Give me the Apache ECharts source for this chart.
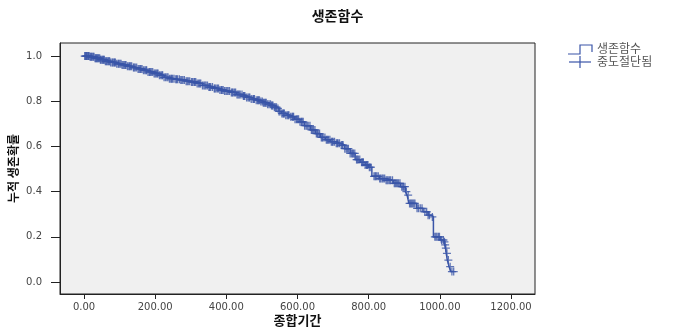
<!DOCTYPE html>
<html>
<head>
<meta charset="utf-8">
<script src="https://cdn.jsdelivr.net/npm/echarts@6/dist/echarts.min.js"></script>
<style>html,body{margin:0;padding:0;background:#fff;}#c{width:675px;height:329px;}</style>
</head>
<body>
<div id="c"></div>
<script>
// Kaplan-Meier survival steps: [time, survival after that time]
const survivalSteps = [
  [0,1.0],[15,0.997],[30,0.991],[45,0.984],[60,0.977],[75,0.972],[90,0.966],[105,0.961],
  [120,0.955],[135,0.949],[150,0.943],[165,0.937],[180,0.930],[195,0.923],[210,0.915],
  [225,0.906],[240,0.900],[255,0.897],[270,0.894],[285,0.889],[300,0.885],[317,0.879],
  [333,0.870],[348,0.863],[364,0.857],[380,0.850],[395,0.845],[410,0.839],[429,0.830],
  [445,0.823],[457,0.817],[470,0.810],[482,0.805],[495,0.799],[504,0.794],[515,0.787],
  [525,0.781],[535,0.774],[542,0.768],[548,0.755],[555,0.746],[566,0.738],[579,0.731],
  [592,0.720],[607,0.709],[620,0.692],[636,0.673],[650,0.657],[664,0.640],[678,0.630],
  [692,0.621],[706,0.614],[720,0.606],[733,0.590],[748,0.569],[762,0.542],[776,0.530],
  [790,0.518],[800,0.508],[809,0.468],[830,0.458],[846,0.450],[869,0.437],[889,0.422],
  [903,0.400],[908,0.385],[913,0.348],[935,0.326],[953,0.311],[967,0.296],[976,0.288],
  [982,0.200],[1001,0.186],[1012,0.178],[1014,0.164],[1016,0.150],[1018,0.127],
  [1021,0.097],[1026,0.068],[1031,0.046],[1039,0.046]
];
// Censored observation times (marks sit on the curve)
const censoredTimes = [
  2,4,6,7,9,11,13,14,17,19,21,23,26,28,31,33,35,37,39,41,44,46,48,51,53,55,57,60,63,65,68,
  70,72,75,79,81,84,86,88,92,96,98,101,104,107,110,113,116,118,122,126,128,131,134,
  139,141,144,148,152,155,158,160,163,167,171,174,176,180,184,186,189,193,197,200,203,
  206,208,212,216,219,221,225,229,233,236,240,244,246,249,253,258,260,263,268,
  272,275,278,282,287,290,293,297,302,305,309,311,314,318,322,325,328,333,337,340,343,
  347,351,353,356,361,366,368,371,375,378,382,386,388,391,395,399,402,405,409,
  414,417,419,423,426,430,433,436,439,444,448,450,452,457,461,464,466,470,475,477,479,
  484,488,490,493,497,501,504,507,510,512,516,520,524,527,529,531,535,538,541,
  545,548,551,556,559,561,563,567,571,574,576,581,585,587,589,593,597,600,603,607,611,
  613,616,620,624,627,630,635,639,642,645,649,653,656,658,662,667,670,672,677,
  681,684,687,691,695,698,700,704,709,712,714,718,723,726,728,733,737,740,743,748,752,
  755,757,761,766,768,771,775,780,783,785,790,794,796,798,802,806,
  815,818,820,823,827,831,834,838,841,845,849,852,855,859,862,867,872,875,878,881,884,
  888,893,896,898,902,906,911,915,918,921,924,927,930,936,940,945,950,
  958,963,967,971,979,986,989,992,996,999,1005,1010,1013,1015,1017,1020,1024,1029,1034,1039
];
const xTicks = [0,200,400,600,800,1000,1200];
const yTicks = [0,0.2,0.4,0.6,0.8,1.0];

function survivalAt(t){
  let s = survivalSteps[0][1];
  for (const p of survivalSteps){ if (p[0] <= t) s = p[1]; else break; }
  return s;
}
const censoredPoints = censoredTimes.map(t => [t, survivalAt(t)]);

const blue = '#3a55a8';
const chart = echarts.init(document.getElementById('c'), null, {renderer:'canvas'});
chart.setOption({
  animation:false,
  backgroundColor:'#ffffff',
  title:{
    text:'생존함수', left:'center', top:4,
    textStyle:{fontFamily:'Noto Sans CJK KR', fontSize:14, fontWeight:'bold', color:'#111'}
  },
  grid:{
    show:true, left:60, top:43, width:475, height:251,
    outerBoundsMode:'none', containLabel:false,
    backgroundColor:'#f0f0f0', borderColor:'#222', borderWidth:1
  },
  xAxis:{
    type:'value', min:-67.5, max:1267.5,
    name:'종합기간', nameLocation:'middle', nameGap:20, nameMoveOverlap:false,
    nameTextStyle:{fontFamily:'Noto Sans CJK KR', fontSize:13, fontWeight:'bold', color:'#111'},
    axisLine:{show:true, onZero:false, lineStyle:{color:'#222', width:1}},
    axisTick:{show:true, length:5, customValues:xTicks, lineStyle:{color:'#222'}},
    axisLabel:{customValues:xTicks, margin:8, fontFamily:'DejaVu Sans', fontSize:10, color:'#444',
      formatter: v => v.toFixed(2)},
    splitLine:{show:false}
  },
  yAxis:{
    type:'value', min:-0.0531, max:1.0580,
    name:'누적 생존확률', nameLocation:'middle', nameGap:41, nameRotate:90, nameMoveOverlap:false,
    nameTextStyle:{fontFamily:'Noto Sans CJK KR', fontSize:12, fontWeight:'bold', color:'#111'},
    axisLine:{show:true, onZero:false, lineStyle:{color:'#222', width:1}},
    axisTick:{show:true, length:9, customValues:yTicks, lineStyle:{color:'#222'}},
    axisLabel:{customValues:yTicks, margin:18, fontFamily:'DejaVu Sans', fontSize:10, color:'#444',
      formatter: v => v.toFixed(1)},
    splitLine:{show:false}
  },
  series:[
    {
      name:'생존함수', type:'line', step:'end', data:survivalSteps,
      showSymbol:false, lineStyle:{color:blue, width:1.5}, z:2
    },
    {
      name:'중도절단됨', type:'scatter', data:censoredPoints,
      symbol:'path://M0,4.2H10V5.8H0Z M4.2,0H5.8V10H4.2Z', symbolSize:8,
      itemStyle:{color:blue}, z:3
    }
  ],
  graphic:[
    {type:'polyline', shape:{points:[[568,54],[580,54],[580,45],[592,45],[592,52]]},
      style:{stroke:blue, lineWidth:1.2, fill:null}},
    {type:'text', left:597, top:42, style:{text:'생존함수', font:'12px "Noto Sans CJK KR"', fill:'#555'}},
    {type:'line', shape:{x1:569, y1:62, x2:591, y2:62}, style:{stroke:blue, lineWidth:1.2}},
    {type:'line', shape:{x1:580, y1:56, x2:580, y2:68}, style:{stroke:blue, lineWidth:1.2}},
    {type:'text', left:597, top:55, style:{text:'중도절단됨', font:'12px "Noto Sans CJK KR"', fill:'#555'}}
  ]
});
</script>
</body>
</html>
